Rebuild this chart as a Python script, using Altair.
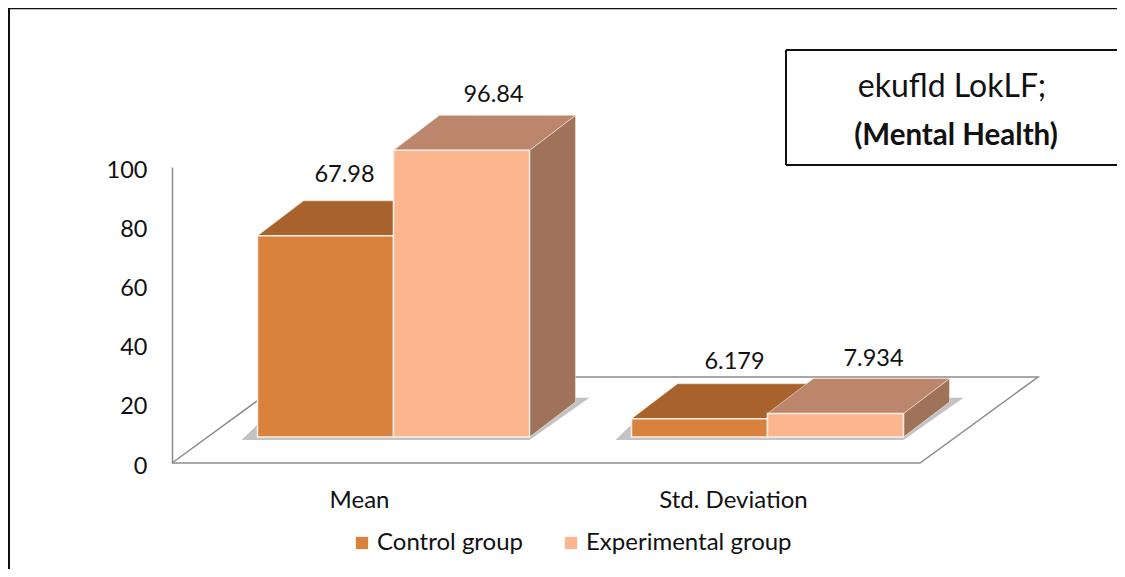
import altair as alt
import pandas as pd

# ---- values ----
groups = ["Mean", "Std. Deviation"]
series = ["Control group", "Experimental group"]
control = [67.98, 6.179]
experimental = [96.84, 7.934]
y_ticks = [0, 20, 40, 60, 80, 100]
front_colors = ["#D9823D", "#FBB58F"]
top_colors = ["#A8632D", "#BB866B"]
side_colors = ["#8A5A2E", "#9F7359"]
FONT = "Lato"
INK = "#111111"

# ---- 3-D projection, in axis units ----
PX_X = 374.0            # px per category
PX_Y = 2.96             # px per value unit
bar_w = 136 / PX_X
dx = 46 / PX_X          # depth of a bar
dy = 35 / PX_Y
base = 26 / PX_Y        # the bars stand this far up the floor
shift = 34.5 / PX_X     # ... and this far to the right
floor_dx = 118 / PX_X
floor_dy = 86 / PX_Y

rows = []
for g, name in enumerate(groups):
    for s, (sname, vals) in enumerate(zip(series, [control, experimental])):
        x0 = g + 0.5 + shift + (s - 1) * bar_w
        rows.append(dict(group=name, series=sname, value=vals[g], x0=x0, x1=x0 + bar_w,
                         y0=base, y1=base + vals[g]))
bars = pd.DataFrame(rows)

xs = alt.Scale(domain=[0, 2])
ys = alt.Scale(domain=[0, 100])
color = alt.Scale(domain=series, range=front_colors)

x_axis = alt.Axis(
    values=[0.5, 1.5], labelExpr="datum.value == 0.5 ? 'Mean' : 'Std. Deviation'", title=None,
    domain=False, ticks=False, grid=False, labelFont=FONT, labelFontSize=24, labelColor=INK,
    labelPadding=25, labelLimit=0)
y_axis = alt.Axis(
    values=y_ticks, title=None, domainColor="#8C8C8C", domainWidth=1.5, ticks=False, grid=False,
    labelFont=FONT, labelFontSize=23.5, labelColor=INK, labelPadding=25, labelOffset=3)


def X(f):
    return alt.X(f, scale=xs, axis=x_axis)


def Y(f):
    return alt.Y(f, scale=ys, axis=y_axis)


# floor
floor_pts = pd.DataFrame({
    "x": [0, 2, 2 + floor_dx, floor_dx, 0],
    "y": [0, 0, floor_dy, floor_dy, 0],
    "o": [0, 1, 2, 3, 4],
})
floor = alt.Chart(floor_pts).mark_line(color="#8C8C8C", strokeWidth=1.5, clip=False).encode(
    x=X("x:Q"), y=Y("y:Q"), order="o:Q",
)

layers = [floor]


def side_df(r):
    return pd.DataFrame({"x": [r.x1, r.x1 + dx], "lo": [r.y0, r.y0 + dy], "hi": [r.y1, r.y1 + dy],
                         "bar": [r.group] * 2})


def top_df(r):
    return pd.DataFrame({"y": [r.y1, r.y1 + dy], "l": [r.x0, r.x0 + dx], "r": [r.x1, r.x1 + dx],
                         "bar": [r.group] * 2})


# floor shadow under each pair of bars
shadow_rows = []
for g, name in enumerate(groups):
    sub = bars[bars.group == name]
    left, right = sub.x0.min(), sub.x1.max()
    shadow_rows.append(pd.DataFrame({
        "y": [base - 1.0, base + dy * 1.12],
        "l": [left - 16 / PX_X, left + dx * 0.6],
        "r": [right, right + dx + 14 / PX_X],
        "bar": [name] * 2,
    }))
shadow = alt.Chart(pd.concat(shadow_rows)).mark_area(
    orient="horizontal", color="#B4B4B4", opacity=0.8, clip=False
).encode(y=Y("y:Q"), x=X("l:Q"), x2="r:Q", detail="bar:N")
layers.append(shadow)

for s, sname in enumerate(series):
    sub = bars[bars.series == sname]
    side = pd.concat([side_df(r) for r in sub.itertuples()])
    top = pd.concat([top_df(r) for r in sub.itertuples()])
    layers.append(alt.Chart(side).mark_area(
        color=side_colors[s], stroke="#F5E6DC", strokeWidth=0.6, clip=False
    ).encode(x=X("x:Q"), y=Y("lo:Q"), y2="hi:Q", detail="bar:N"))
    layers.append(alt.Chart(top).mark_area(
        orient="horizontal", color=top_colors[s], stroke="#F5E6DC", strokeWidth=0.6, clip=False
    ).encode(y=Y("y:Q"), x=X("l:Q"), x2="r:Q", detail="bar:N"))
    layers.append(alt.Chart(sub).mark_rect(stroke="#FBEFE7", strokeWidth=1.5, clip=False).encode(
        x=X("x0:Q"), x2="x1:Q", y=Y("y0:Q"), y2="y1:Q",
        color=alt.Color("series:N", scale=color, legend=alt.Legend(
            orient="none", direction="horizontal", title=None,
            legendX=178, legendY=364,
            symbolType="square", symbolSize=150, symbolStrokeWidth=0,
            labelFont=FONT, labelFontSize=24, labelColor=INK, labelLimit=0,
            columnPadding=35, labelOffset=3,
        )),
    ))

# value labels
lab_nudge_x = [19 / PX_X, 32 / PX_X, 35 / PX_X, 38 / PX_X]
lab_nudge_y = [26, 20, 22, 20]
lab = bars.reset_index(drop=True)
lab["lx"] = (lab.x0 + lab.x1) / 2 + lab_nudge_x
lab["ly"] = lab.y1 + dy + [n / PX_Y for n in lab_nudge_y]
lab["txt"] = ["67.98", "96.84", "6.179", "7.934"]
labels = alt.Chart(lab).mark_text(font=FONT, fontSize=23.5, color=INK, baseline="middle", clip=False).encode(
    x=X("lx:Q"), y=Y("ly:Q"), text="txt:N",
)
layers.append(labels)

# frame and title box (page furniture, in pixels from the plot origin)
W, H = 748, 296
PAD_L, PAD_T = 164, 159
PLOT_X, PLOT_Y = 172, 167
black = dict(color=INK, strokeWidth=2, clip=False)
one = pd.DataFrame({"a": [0]})
furn = [
    alt.Chart(one).mark_rule(color=INK, strokeWidth=1.6, clip=False).encode(
        x=alt.value(1 - PAD_L), x2=alt.value(1117 - PLOT_X), y=alt.value(0.5 - PAD_T)),
    alt.Chart(one).mark_rule(**black).encode(
        x=alt.value(1 - PAD_L), y=alt.value(0 - PAD_T), y2=alt.value(569 - PLOT_Y)),
    alt.Chart(one).mark_rule(**black).encode(
        x=alt.value(786 - PLOT_X), x2=alt.value(1117 - PLOT_X), y=alt.value(50 - PLOT_Y)),
    alt.Chart(one).mark_rule(**black).encode(
        x=alt.value(786 - PLOT_X), x2=alt.value(1117 - PLOT_X), y=alt.value(165 - PLOT_Y)),
    alt.Chart(one).mark_rule(**black).encode(
        x=alt.value(786 - PLOT_X), y=alt.value(50 - PLOT_Y), y2=alt.value(165 - PLOT_Y)),
    alt.Chart(pd.DataFrame({"t": ["ekufld LokLF;"]})).mark_text(
        font=FONT, fontSize=32, color=INK, clip=False).encode(
        x=alt.value(952 - PLOT_X), y=alt.value(87 - PLOT_Y), text="t:N"),
    alt.Chart(pd.DataFrame({"t": ["(Mental Health)"]})).mark_text(
        font=FONT, fontSize=29.5, fontWeight="bold", color=INK, clip=False).encode(
        x=alt.value(956 - PLOT_X), y=alt.value(136 - PLOT_Y), text="t:N"),
]

chart = alt.layer(*layers, *furn).properties(
    width=W, height=H, background="white",
    padding={"left": PAD_L, "top": PAD_T, "right": 1117 - 8 - PAD_L - W, "bottom": 569 - 8 - PAD_T - H},
    autosize=alt.AutoSizeParams(type="none"),
).configure_view(strokeWidth=0, strokeOpacity=0)

chart.save("out.html", embed_options={"renderer": "svg", "actions": False})
